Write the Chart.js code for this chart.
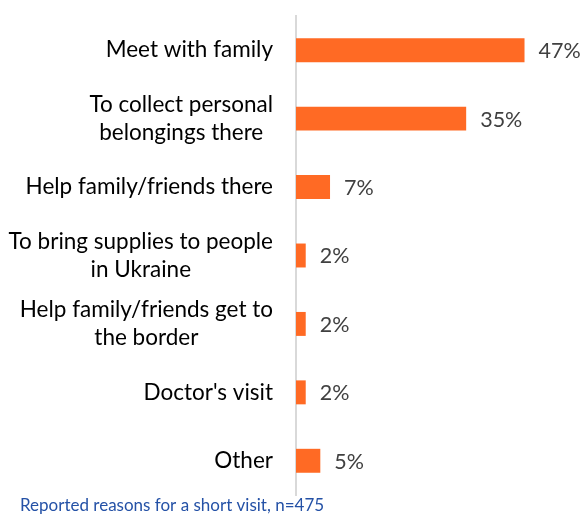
<!DOCTYPE html>
<html>
<head>
<meta charset="utf-8">
<script src="https://cdn.jsdelivr.net/npm/chart.js@4.4.1/dist/chart.umd.min.js"></script>
<style>
  html, body { margin: 0; padding: 0; background: #fff; }
  #wrap { width: 583px; height: 514px; position: relative; }
</style>
</head>
<body>
<div id="wrap"><canvas id="myChart" width="583" height="514"></canvas></div>
<script>
// reasons for the trip, one entry per bar (multi-line labels as arrays)
const reasons = [
  ['Meet with family'],
  ['To collect personal', 'belongings there'],
  ['Help family/friends there'],
  ['To bring supplies to people', 'in Ukraine'],
  ['Help family/friends get to', 'the border'],
  ["Doctor's visit"],
  ['Other']
]
const shares = [47, 35, 7, 2, 2, 2, 5]
const footnote = 'Reported reasons for a short visit, n=475'

const barColor = '#FF6A24'
const labelFont = '22.5px Lato'
const valueFont = '21.5px Lato'

/* category labels: block right-aligned, lines centred inside the block */
const categoryLabels = {
  id: 'categoryLabels',
  afterDraw(chart) {
    const ctx = chart.ctx
    const yScale = chart.scales.y
    const right = chart.chartArea.left - 23
    const lineH = 28
    ctx.save()
    ctx.font = labelFont
    ctx.fillStyle = '#000'
    ctx.textAlign = 'center'
    ctx.textBaseline = 'middle'
    reasons.forEach((lines, i) => {
      const y = yScale.getPixelForValue(i)
      const w = Math.max(...lines.map(l => ctx.measureText(l).width))
      const cx = right - w / 2
      const top = y - (lines.length - 1) * lineH / 2
      lines.forEach((l, j) => ctx.fillText(l, cx, top + j * lineH))
    })
    ctx.restore()
  }
}

/* percentage next to each bar, plus the footnote */
const valueLabels = {
  id: 'valueLabels',
  afterDatasetsDraw(chart) {
    const ctx = chart.ctx
    const xScale = chart.scales.x
    const yScale = chart.scales.y
    ctx.save()
    ctx.font = valueFont
    ctx.fillStyle = '#404040'
    ctx.textAlign = 'left'
    ctx.textBaseline = 'middle'
    shares.forEach((v, i) => {
      ctx.fillText(v + '%', xScale.getPixelForValue(v) + 14, yScale.getPixelForValue(i) + 1)
    })
    ctx.font = '17px Lato'
    ctx.fillStyle = '#2451A6'
    ctx.textBaseline = 'alphabetic'
    ctx.fillText(footnote, 20, 511)
    ctx.restore()
  }
}

const config = {
  type: 'bar',
  data: {
    labels: reasons,
    datasets: [{
      data: shares,
      backgroundColor: barColor,
      barPercentage: 0.35,
      categoryPercentage: 1
    }]
  },
  options: {
    indexAxis: 'y',
    responsive: false,
    animation: false,
    layout: { padding: { top: 16, bottom: 19, right: 5, left: 0 } },
    plugins: { legend: { display: false }, tooltip: { enabled: false } },
    scales: {
      x: { display: false, min: 0, max: 58 },
      y: {
        grid: { display: false },
        border: { display: true, color: '#D9D9D9', width: 2 },
        ticks: { display: false },
        afterFit(scale) { scale.width = 296 }
      }
    }
  },
  plugins: [categoryLabels, valueLabels]
}

new Chart(document.getElementById('myChart'), config)
</script>
</body>
</html>
